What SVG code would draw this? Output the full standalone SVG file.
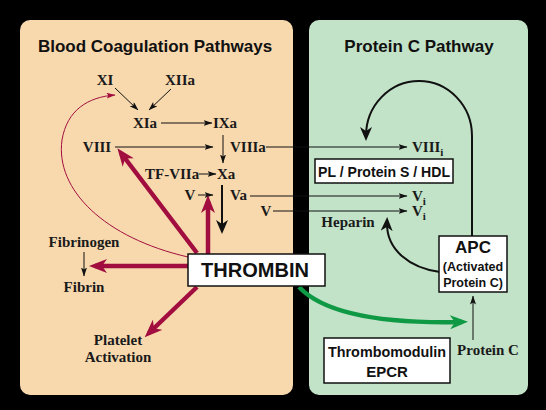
<svg xmlns="http://www.w3.org/2000/svg" width="546" height="410" viewBox="0 0 546 410">
<style>
.serif{font-family:"Liberation Serif","Times New Roman",serif;font-weight:bold;font-size:15px;fill:#1a1a1a}
.sans{font-family:"Liberation Sans",Arial,sans-serif;font-weight:bold;fill:#111}
.thin{stroke:#111;stroke-width:1;fill:none}
.thick{stroke:#111;stroke-width:2;fill:none}
.red{stroke:#a10d3e;stroke-width:4.5;fill:none}
.redthin{stroke:#a10d3e;stroke-width:1;fill:none}
.green{stroke:#0f9945;stroke-width:4.5;fill:none}
.box{fill:#fff;stroke:#111;stroke-width:1.5}
</style>
<defs>
<marker id="ah" markerWidth="9" markerHeight="6" refX="8.5" refY="3" orient="auto" markerUnits="userSpaceOnUse"><path d="M0,0 L9,3 L0,6 L2,3 z" fill="#111"/></marker>
<marker id="ahR1" markerWidth="9" markerHeight="6" refX="8.5" refY="3" orient="auto" markerUnits="userSpaceOnUse"><path d="M0,0 L9,3 L0,6 L2,3 z" fill="#a10d3e"/></marker>
<marker id="ahB" markerWidth="14" markerHeight="12" refX="9" refY="6" orient="auto" markerUnits="userSpaceOnUse"><path d="M0,0 L14,6 L0,12 L4,6 z" fill="#111"/></marker>
<marker id="ahR" markerWidth="18" markerHeight="14" refX="12" refY="7" orient="auto" markerUnits="userSpaceOnUse"><path d="M0,0 L18,7 L0,14 L5,7 z" fill="#a10d3e"/></marker>
<marker id="ahG" markerWidth="18" markerHeight="14" refX="12" refY="7" orient="auto" markerUnits="userSpaceOnUse"><path d="M0,0 L18,7 L0,14 L5,7 z" fill="#0f9945"/></marker>
</defs>
<rect x="0" y="0" width="546" height="410" fill="#000"/>
<g id="panel-left"><rect x="20" y="20" width="273" height="375" rx="10" fill="#f8d9ae"/>
<text class="sans" x="155" y="52" font-size="17" text-anchor="middle">Blood Coagulation Pathways</text></g>
<g id="panel-right"><rect x="309" y="20" width="219" height="375" rx="10" fill="#c2e3c8"/>
<text class="sans" x="419" y="52" font-size="17" text-anchor="middle">Protein C Pathway</text></g>

<g id="connectors">
<line class="thin" x1="115" y1="88" x2="138" y2="110" marker-end="url(#ah)"/>
<line class="thin" x1="171" y1="89" x2="149" y2="110" marker-end="url(#ah)"/>
<line class="thin" x1="161" y1="123" x2="212" y2="123" marker-end="url(#ah)"/>
<line class="thin" x1="223" y1="135" x2="223" y2="163" marker-end="url(#ah)"/>
<line class="thin" x1="115" y1="147" x2="213" y2="147" marker-end="url(#ah)"/>
<line class="thin" x1="266" y1="147" x2="407" y2="147" marker-end="url(#ah)"/>
<line class="thin" x1="199" y1="174" x2="216" y2="174" marker-end="url(#ah)"/>
<line class="thin" x1="198" y1="195" x2="213" y2="195" marker-end="url(#ah)"/>
<line class="thick" x1="222" y1="185" x2="222" y2="229" marker-end="url(#ahB)"/>
<line class="thin" x1="250" y1="196" x2="407" y2="196" marker-end="url(#ah)"/>
<line class="thin" x1="273" y1="211" x2="407" y2="211" marker-end="url(#ah)"/>
<line class="thin" x1="84" y1="252" x2="84" y2="276" marker-end="url(#ah)"/>
<line class="thin" x1="473" y1="340" x2="473" y2="296" marker-end="url(#ah)"/>
<path class="redthin" d="M188,257 C105,238 55,190 62,140 C67,110 88,97 115,95" marker-end="url(#ahR1)"/>
<line class="red" x1="197" y1="253" x2="121" y2="153" marker-end="url(#ahR)"/>
<line class="red" x1="208" y1="254" x2="208" y2="201" marker-end="url(#ahR)"/>
<line class="red" x1="188" y1="266" x2="95" y2="266" marker-end="url(#ahR)"/>
<line class="red" x1="197" y1="287" x2="149" y2="333" marker-end="url(#ahR)"/>
<path class="green" d="M299,287 Q335,325 462,322" marker-end="url(#ahG)"/>
<path class="thick" d="M472,236 V136 A53,55 0 0 0 366,136" marker-end="url(#ahB)"/>
<path class="thick" d="M440,272 C410,268 386,250 387,222" marker-end="url(#ahB)"/>
</g>

<g id="n-XI"><text class="serif" x="105" y="85" text-anchor="middle">XI</text></g>
<g id="n-XIIa"><text class="serif" x="180" y="85" text-anchor="middle">XIIa</text></g>
<g id="n-XIa"><text class="serif" x="145" y="128" text-anchor="middle">XIa</text></g>
<g id="n-IXa"><text class="serif" x="225" y="128" text-anchor="middle">IXa</text></g>
<g id="n-VIII"><text class="serif" x="97" y="152" text-anchor="middle">VIII</text></g>
<g id="n-VIIIa"><text class="serif" x="230" y="152">VIIIa</text></g>
<g id="n-TFVIIa"><text class="serif" x="145" y="179">TF-VIIa</text></g>
<g id="n-Xa"><text class="serif" x="217" y="179">Xa</text></g>
<g id="n-V1"><text class="serif" x="190" y="200" text-anchor="middle">V</text></g>
<g id="n-Va"><text class="serif" x="230" y="200">Va</text></g>
<g id="n-V2"><text class="serif" x="266" y="216" text-anchor="middle">V</text></g>
<g id="n-VIIIi"><text class="serif" x="412" y="152">VIII<tspan font-size="11" dy="4">i</tspan></text></g>
<g id="n-Vi1"><text class="serif" x="412" y="201">V<tspan font-size="11" dy="4">i</tspan></text></g>
<g id="n-Vi2"><text class="serif" x="412" y="216">V<tspan font-size="11" dy="4">i</tspan></text></g>
<g id="n-heparin"><text class="serif" x="348" y="227" text-anchor="middle">Heparin</text></g>
<g id="n-fibrinogen"><text class="serif" x="84" y="247" text-anchor="middle">Fibrinogen</text></g>
<g id="n-fibrin"><text class="serif" x="84" y="292" text-anchor="middle">Fibrin</text></g>
<g id="n-platelet"><text class="serif" x="118" y="345" text-anchor="middle">Platelet</text><text class="serif" x="118" y="362" text-anchor="middle">Activation</text></g>
<g id="n-proteinC"><text class="serif" x="488" y="355" text-anchor="middle">Protein C</text></g>

<g id="n-PL"><rect class="box" x="315" y="159" width="138" height="24"/>
<text class="sans" x="384" y="177" font-size="15" text-anchor="middle" textLength="132" lengthAdjust="spacingAndGlyphs">PL / Protein S / HDL</text></g>
<g id="n-thrombin"><rect class="box" x="188" y="254" width="137" height="32"/>
<text class="sans" x="255" y="277" font-size="21" text-anchor="middle" textLength="108" lengthAdjust="spacingAndGlyphs">THROMBIN</text></g>
<g id="n-APC"><rect class="box" x="439" y="236" width="68" height="56"/>
<text class="sans" x="473" y="253" font-size="17" text-anchor="middle">APC</text>
<text class="sans" x="473" y="271" font-size="12.5" text-anchor="middle">(Activated</text>
<text class="sans" x="473" y="287" font-size="12.5" text-anchor="middle">Protein C)</text></g>
<g id="n-TM"><rect class="box" x="324" y="338" width="126" height="45"/>
<text class="sans" x="387" y="357" font-size="15" text-anchor="middle" textLength="118" lengthAdjust="spacingAndGlyphs">Thrombomodulin</text>
<text class="sans" x="387" y="377" font-size="15" text-anchor="middle">EPCR</text></g>
</svg>
